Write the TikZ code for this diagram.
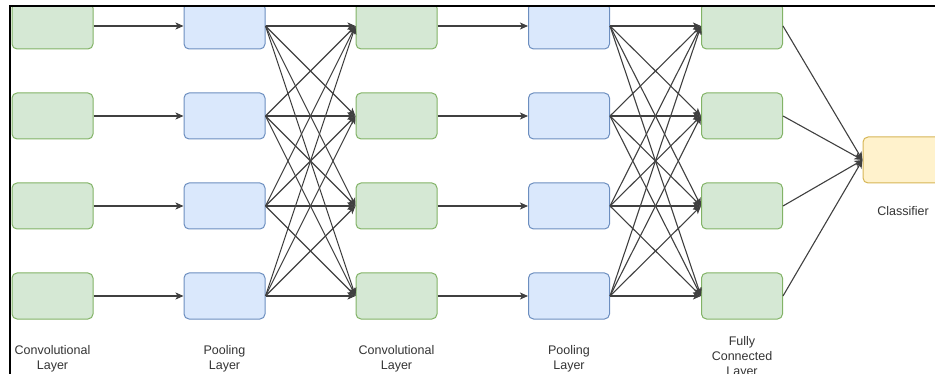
\documentclass[tikz,border=0pt]{standalone}
\usepackage{fontspec}
\setmainfont{Liberation Sans}
\usetikzlibrary{arrows.meta}

\definecolor{convfill}{HTML}{D5E8D4}
\definecolor{convline}{HTML}{82B366}
\definecolor{poolfill}{HTML}{DAE8FC}
\definecolor{poolline}{HTML}{6C8EBF}
\definecolor{clsfill}{HTML}{FFF2CC}
\definecolor{clsline}{HTML}{D6B656}
\definecolor{txtgray}{HTML}{333333}

\begin{document}
\begin{tikzpicture}[
    x=1pt, y=-1pt, font=\fontsize{12.5}{15}\selectfont,
    box/.style={rounded corners=5pt, line width=1pt, minimum width=81pt,
                minimum height=46pt, inner sep=0pt},
    conv/.style={box, draw=convline, fill=convfill},
    pool/.style={box, draw=poolline, fill=poolfill},
    cls/.style={box, draw=clsline, fill=clsfill},
    lbl/.style={anchor=north, inner sep=0pt, align=center, text=txtgray},
    flow/.style={-{Stealth[length=8pt, width=7pt, inset=2pt]}, line width=1.1pt, draw=black!75},
    frame/.style={line width=2.2pt, draw=black}
]
\useasboundingbox (0,0) rectangle (935,374);
\begin{scope}
\clip (10,6) rectangle (935,374);
% layers
\foreach \c/\x/\s in {1/52.5/conv, 2/224.5/pool, 3/396.5/conv, 4/569/pool, 5/742/conv}{
  \foreach \r/\y in {1/26, 2/116, 3/206, 4/296}{
    \node[\s] (n\c\r) at (\x,\y) {};
  }
}
\node[cls] (cls) at (903.5,160) {};
% connections
\foreach \r in {1,...,4}{
  \draw[flow] (n1\r) -- (n2\r);
  \draw[flow] (n3\r) -- (n4\r);
  \draw[flow] (n5\r.east) -- (cls.west);
}
\foreach \a in {1,...,4}{
  \foreach \b in {1,...,4}{
    \draw[flow] (n2\a.east) -- (n3\b.west);
    \draw[flow] (n4\a.east) -- (n5\b.west);
  }
}
\end{scope}
% captions
\node[lbl] (l1) at (52.5,345) {Convolutional\\Layer};
\node[lbl] (l2) at (224.5,345) {Pooling\\Layer};
\node[lbl] (l3) at (396.5,345) {Convolutional\\Layer};
\node[lbl] (l4) at (569,345) {Pooling\\Layer};
\node[lbl] (l5) at (742,336) {Fully\\Connected\\Layer};
\node[lbl] (l6) at (903,206) {Classifier};
\draw[frame] (10,374) -- (10,6) -- (935,6);
\end{tikzpicture}
\end{document}
